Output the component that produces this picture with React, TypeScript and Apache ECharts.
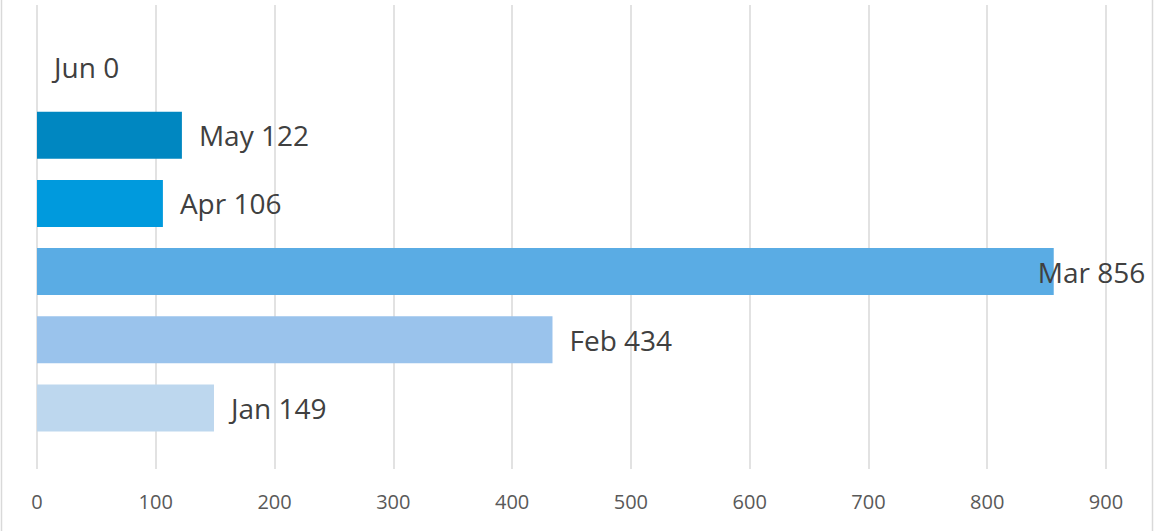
import React, { useEffect, useRef } from "react";
import * as echarts from "echarts";

const categories = ["Jan", "Feb", "Mar", "Apr", "May", "Jun"];
const values = [149, 434, 856, 106, 122, 0];
const barColors = ["#BDD7EE", "#9AC3EC", "#5AACE4", "#009ADD", "#0087C1", "#0078B0"];
const xTicks = [0, 100, 200, 300, 400, 500, 600, 700, 800, 900];

export default function App() {
  const ref = useRef<HTMLDivElement>(null);
  useEffect(() => {
    if (!ref.current) return;
    const chart = echarts.init(ref.current, undefined, { renderer: "svg" });
    const font = "'Open Sans', 'Liberation Sans', sans-serif";
    chart.setOption({
      animation: false,
      backgroundColor: "#ffffff",
      grid: [
        { left: 37, right: 48, top: 5, bottom: 62 },
        { left: 37, right: 48, top: 33, bottom: 89 },
      ],
      xAxis: [
        {
          gridIndex: 0,
          type: "value",
          min: xTicks[0],
          max: xTicks[xTicks.length - 1],
          interval: 100,
          axisLine: { show: false },
          axisTick: { show: false },
          splitLine: { show: true, lineStyle: { color: "#d9d9d9", width: 1.5 } },
          axisLabel: { color: "#595959", fontSize: 20, fontFamily: font, margin: 22 },
        },
        {
          gridIndex: 1,
          type: "value",
          min: xTicks[0],
          max: xTicks[xTicks.length - 1],
          interval: 100,
          show: false,
          splitLine: { show: false },
        },
      ],
      yAxis: [
        { gridIndex: 0, type: "category", data: categories, show: false },
        { gridIndex: 1, type: "category", data: categories, show: false },
      ],
      series: [
        {
          type: "bar",
          xAxisIndex: 1,
          yAxisIndex: 1,
          barWidth: 47,
          data: values.map((v, i) => ({
            value: v,
            itemStyle: { color: barColors[i] },
            label: categories[i] === "Mar" ? { offset: [-33, 0] } : undefined,
          })),
          label: {
            show: true,
            position: "right",
            distance: 17,
            formatter: "{b} {c}",
            fontSize: 28,
            fontFamily: font,
            color: "#404040",
          },
        },
      ],
      graphic: [
        { type: "line", shape: { x1: 1.5, y1: 0, x2: 1.5, y2: 531 }, style: { stroke: "#d9d9d9", lineWidth: 1.5 } },
        { type: "line", shape: { x1: 1152.5, y1: 0, x2: 1152.5, y2: 531 }, style: { stroke: "#d9d9d9", lineWidth: 1.5 } },
      ],
    });
    return () => chart.dispose();
  }, []);
  return (
    <div
      ref={ref}
      style={{ position: "fixed", left: 0, top: 0, width: 1154, height: 531 }}
    />
  );
}
